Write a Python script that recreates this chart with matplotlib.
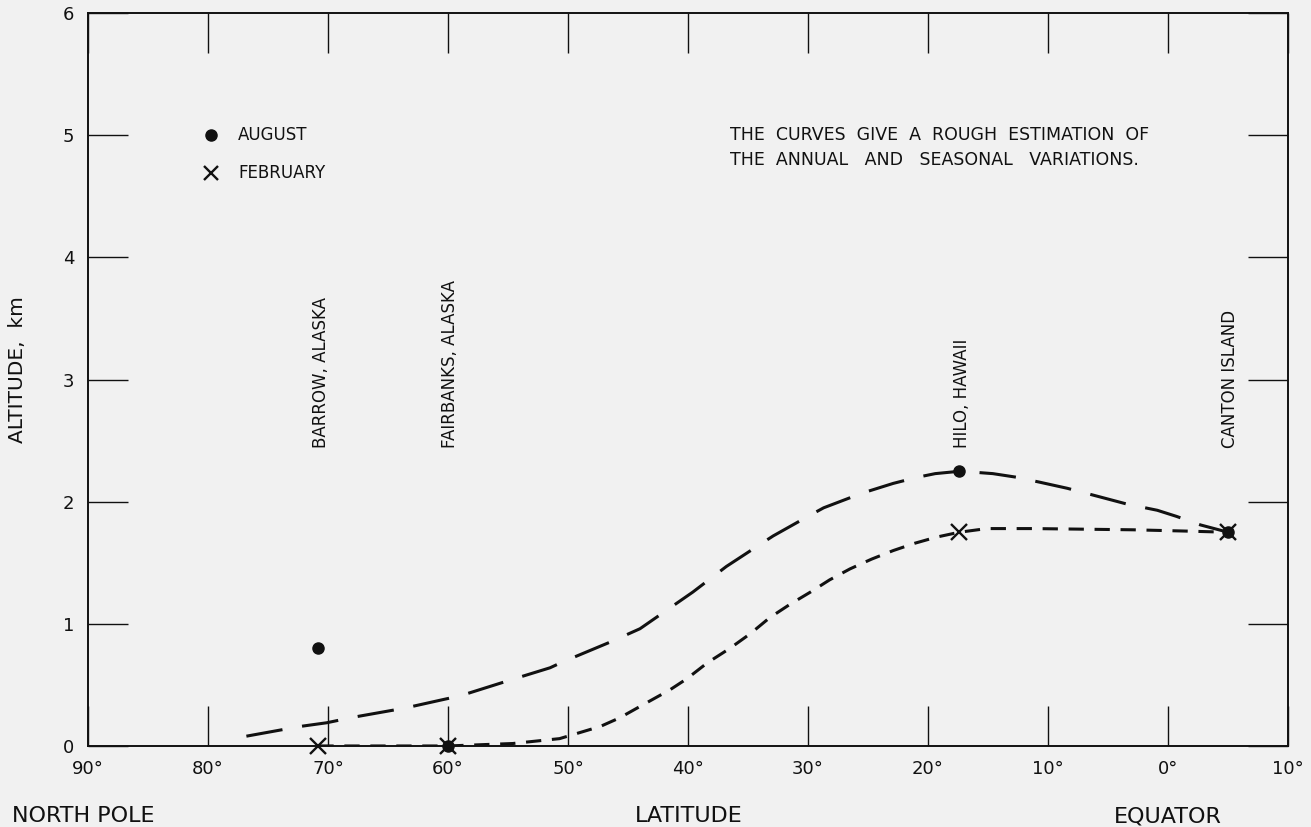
import matplotlib
matplotlib.use("Agg")
import matplotlib.pyplot as plt

# station latitudes (deg N, negative = S) and observed altitudes (km)
stations = ["BARROW, ALASKA", "FAIRBANKS, ALASKA", "HILO, HAWAII", "CANTON ISLAND"]
station_lat = [70.8, 60.0, 17.4, -5.0]
august_alt = [0.80, 0.0, 2.25, 1.75]
february_alt = [0.0, 0.0, 1.75, 1.75]

# hand-drawn estimation curves
aug_curve_lat = [76.8, 72.3, 70.1, 67.9, 63.6, 60.4, 59.0, 54.8, 51.5, 50.4, 46.5, 44.0,
                 39.6, 36.8, 34.0, 32.9, 30.0, 28.7, 25.5, 22.9, 20.9, 19.4, 17.3,
                 14.6, 12.6, 10.7, 8.4, 5.7, 3.4, 0.9, -0.7, -2.7, -5.0]
aug_curve_alt = [0.08, 0.16, 0.19, 0.235, 0.31, 0.38, 0.41, 0.54, 0.64, 0.69, 0.85, 0.96,
                 1.26, 1.47, 1.65, 1.72, 1.88, 1.95, 2.07, 2.15, 2.20, 2.23, 2.25,
                 2.23, 2.20, 2.16, 2.11, 2.04, 1.98, 1.93, 1.88, 1.81, 1.75]
feb_curve_lat = [70.8, 60.0, 54.6, 50.7, 47.3, 45.7, 43.7, 41.5, 40.1, 38.4, 36.5, 34.8,
                 33.2, 31.5, 29.8, 28.2, 26.5, 24.7, 22.9, 21.1, 19.3, 17.4, 15.1,
                 11.2, 7.0, 2.9, -1.3, -5.0]
feb_curve_alt = [0.0, 0.0, 0.02, 0.06, 0.16, 0.23, 0.34, 0.46, 0.55, 0.68, 0.80, 0.92,
                 1.05, 1.16, 1.26, 1.36, 1.45, 1.53, 1.60, 1.66, 1.71, 1.75, 1.78,
                 1.78, 1.775, 1.77, 1.76, 1.75]

x_ticks = [90, 80, 70, 60, 50, 40, 30, 20, 10, 0, -10]
x_tick_labels = ["90°", "80°", "70°", "60°", "50°", "40°", "30°", "20°", "10°", "0°", "10°"]
y_ticks = [0, 1, 2, 3, 4, 5, 6]

bg = "#f1f1f1"
ink = "#111111"
plt.rcParams["font.family"] = ["DejaVu Sans"]

fig = plt.figure(figsize=(13.11, 8.27), dpi=100, facecolor=bg)
ax = fig.add_axes([0.0671, 0.098, 0.9154, 0.886])
ax.set_facecolor(bg)

ax.plot(aug_curve_lat, aug_curve_alt, color=ink, lw=2.2, dashes=(12, 6.5), solid_capstyle="butt")
ax.plot(feb_curve_lat, feb_curve_alt, color=ink, lw=2.2, dashes=(5, 3.5), solid_capstyle="butt")

ax.plot(station_lat, february_alt, ls="none", marker="x", ms=11, mew=1.7, color=ink, clip_on=False, zorder=5)
ax.plot(station_lat, august_alt, ls="none", marker="o", ms=8, color=ink, clip_on=False, zorder=6)

for name, lat in zip(stations, station_lat):
    ax.text(lat - 0.2, 2.44, name, rotation=90, ha="center", va="bottom", fontsize=12, color=ink)

# legend drawn by hand as in the original
ax.plot([79.75], [5.0], marker="o", ms=8, color=ink, ls="none")
ax.plot([79.75], [4.69], marker="x", ms=10, mew=1.7, color=ink, ls="none")
ax.text(77.5, 5.0, "AUGUST", va="center", ha="left", fontsize=12, color=ink)
ax.text(77.5, 4.69, "FEBRUARY", va="center", ha="left", fontsize=12, color=ink)

ax.text(36.5, 5.0, "THE  CURVES  GIVE  A  ROUGH  ESTIMATION  OF", va="center", ha="left", fontsize=12.5, color=ink)
ax.text(36.5, 4.795, "THE  ANNUAL   AND   SEASONAL   VARIATIONS.", va="center", ha="left", fontsize=12.5, color=ink)

ax.set_xlim(90, -10)
ax.set_ylim(0, 6)
ax.set_xticks(x_ticks)
ax.set_xticklabels(x_tick_labels)
ax.set_yticks(y_ticks)
ax.tick_params(direction="in", length=29, width=1, color=ink, labelsize=13,
               top=True, right=True, labelcolor=ink)
ax.tick_params(axis="x", pad=10)
ax.tick_params(axis="y", pad=10)
for s in ax.spines.values():
    s.set_linewidth(1.4)
    s.set_color(ink)

fig.text(0.0130, 0.5526, "ALTITUDE,  km", rotation=90, ha="center", va="center", fontsize=14.5, color=ink)
fig.text(0.5252, 0.006, "LATITUDE", ha="center", va="baseline", fontsize=16, color=ink)
fig.text(0.0092, 0.006, "NORTH POLE", ha="left", va="baseline", fontsize=16, color=ink)
fig.text(0.8906, 0.006, "EQUATOR", ha="center", va="baseline", fontsize=16, color=ink)

fig.savefig("out.png", dpi=100, facecolor=bg)
